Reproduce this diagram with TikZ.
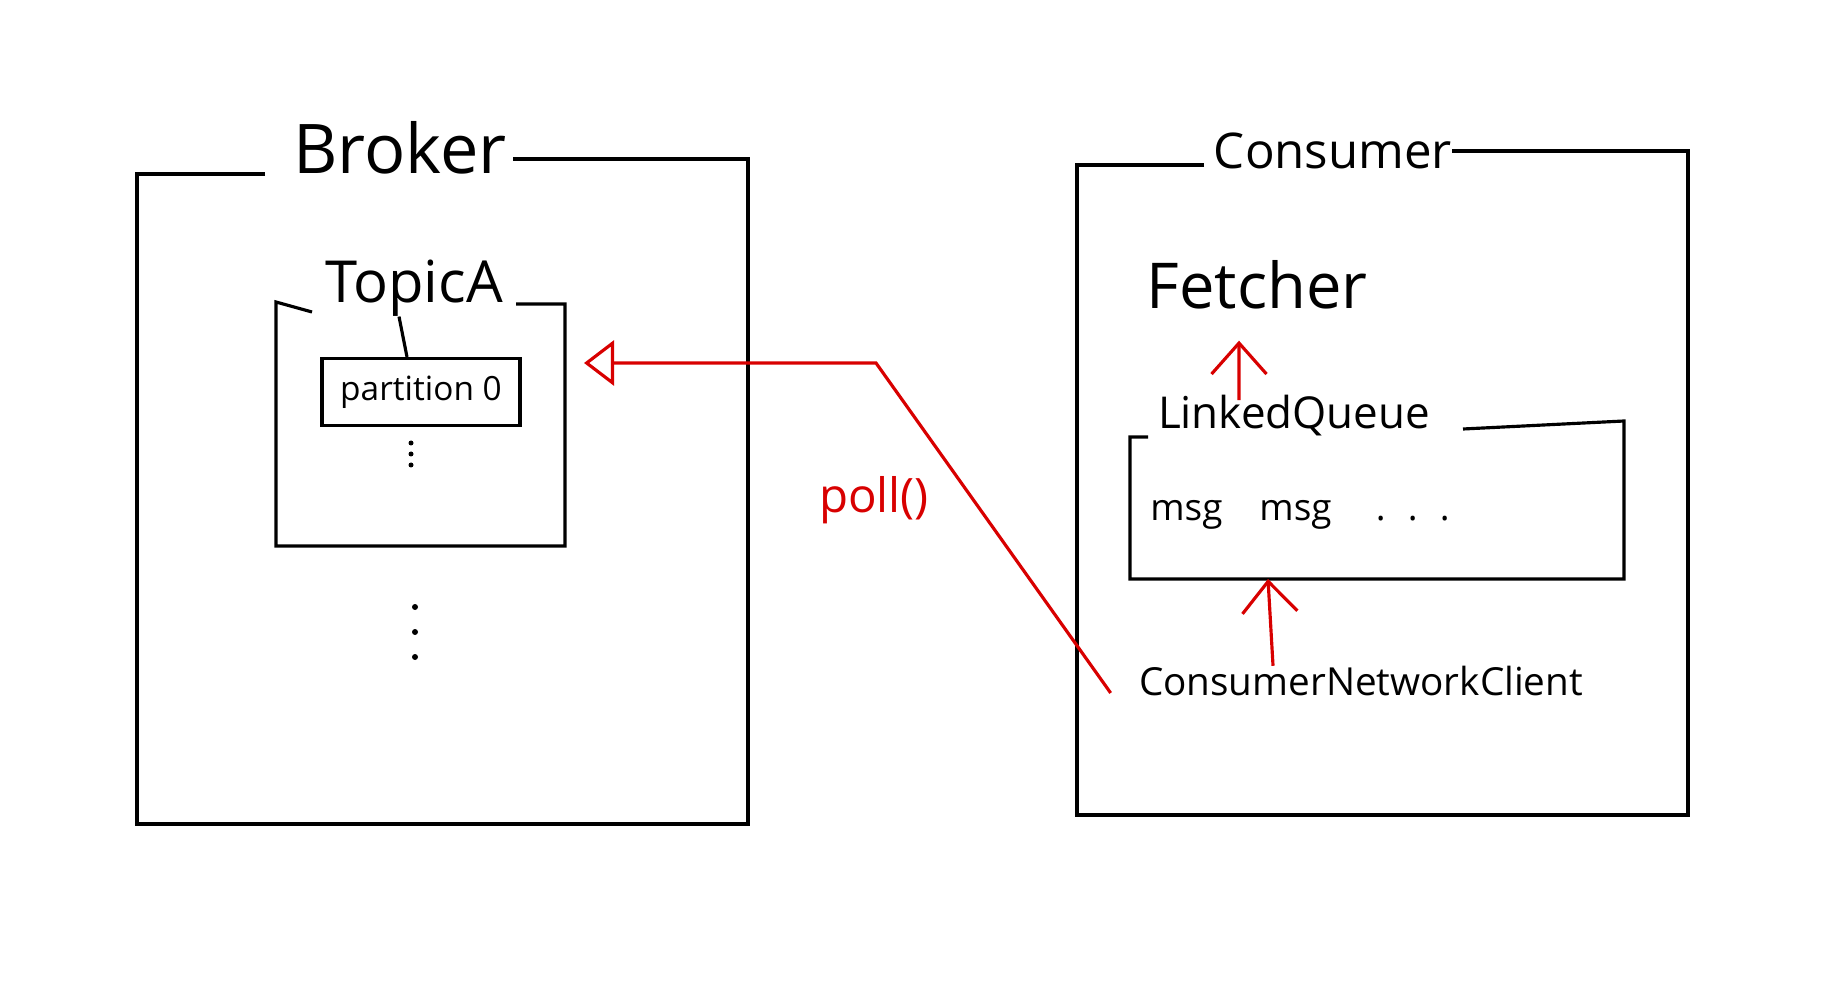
\documentclass[tikz,border=0pt]{standalone}
\usepackage{fontspec}
\setmainfont{Open Sans}
\usetikzlibrary{arrows.meta}
\definecolor{penred}{RGB}{216,0,0}

\begin{document}
\begin{tikzpicture}[x=0.02cm, y=-0.02cm,
    frame/.style={draw, line width=1.8pt, line join=miter},
    hand/.style={inner sep=0pt, font=\fontsize{#1}{#1}\selectfont},
    hand/.default=20,
    redarrow/.style={draw=penred, line width=1.8pt, -{Straight Barb[length=0.62cm, width=1.1cm]}},
    pollarrow/.style={draw=penred, line width=1.8pt, -{Triangle[open, length=0.6cm, width=0.9cm]}},
]
\useasboundingbox (0,0) rectangle (1824,999);
% broker side
\draw[frame] (265,174) -- (137,174) -- (137,824) -- (748,824) -- (748,159) -- (513,159);
\node[hand=39] (broker) at (400,148) {Broker};
\draw[frame] (312,312) -- (276,302) -- (276,546) -- (565,546) -- (565,304) -- (516,304);
\node[hand=33] (topic) at (414,288) {TopicA};
\node[draw, line width=1.8pt, minimum width=3.96cm, minimum height=1.34cm, hand=19] (partition) at (421,392) {partition 0};
\draw[frame] ([xshift=-0.3cm]topic.south) -- ([xshift=-0.28cm]partition.north);
\foreach \y in {443,454,465} \fill (411,\y) circle[radius=0.05cm];
\foreach \y in {607,632,657} \fill (415,\y) circle[radius=0.06cm];
% consumer side
\draw[frame] (1204,165) -- (1077,165) -- (1077,815) -- (1688,815) -- (1688,151) -- (1452,151);
\node[hand=28] (consumer) at (1333,151) {Consumer};
\node[hand=36] (fetcher) at (1257,285) {Fetcher};
\draw[frame] (1148,437) -- (1130,437) -- (1130,579) -- (1624,579) -- (1624,421) -- (1463,429);
\node[hand=25] (queue) at (1294,416) {LinkedQueue};
\node[hand=21] (msgs) at (1300,515) {msg\hspace{1em}msg\hspace{1.2em}.\hspace{0.6em}.\hspace{0.6em}.};
\node[hand=22] (client) at (1361,681) {ConsumerNetworkClient};
\coordinate (qbot) at (1268,579);
\coordinate (pollbend) at (876,363);
\coordinate (topicin) at (584,363);
\node[hand=27, text=penred] (poll) at (874,500) {poll()};
\draw[redarrow] ([xshift=-1.1cm, yshift=-0.1cm]queue.north) -- ([xshift=-0.36cm, yshift=-0.62cm]fetcher.south);
\draw[redarrow] ([xshift=-1.76cm]client.north) -- (qbot);
\draw[pollarrow] ([xshift=-0.56cm, yshift=-0.24cm]client.west) -- (pollbend) -- (topicin);
\end{tikzpicture}
\end{document}
